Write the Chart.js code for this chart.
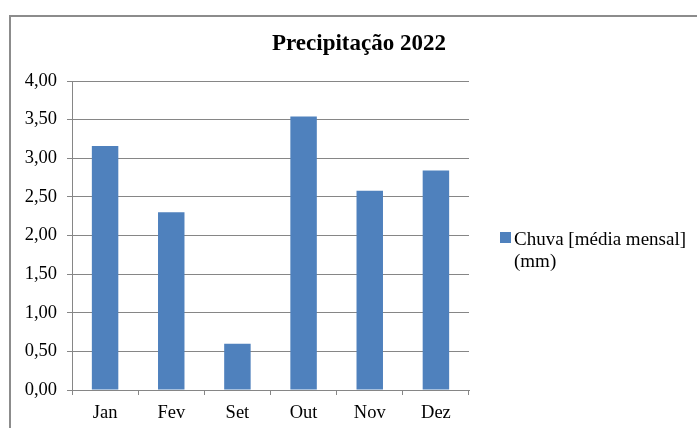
<!DOCTYPE html>
<html>
<head>
<meta charset="utf-8">
<script src="https://cdn.jsdelivr.net/npm/chart.js@4"></script>
<style>
  html, body { margin: 0; padding: 0; background: #fff; }
  #wrap { position: relative; width: 697px; height: 428px; overflow: hidden; background: #fff; }
  #frame { position: absolute; left: 9px; top: 15px; width: 720px; height: 460px;
           border-left: 2px solid #8c8c8c; border-top: 2px solid #8c8c8c; }
  canvas { position: absolute; left: 0; top: 0; }
</style>
</head>
<body>
<div id="wrap">
  <div id="frame"></div>
  <canvas id="c" width="697" height="428"></canvas>
</div>
<script>
// Monthly rainfall, 2022
const chartTitle = 'Precipitação 2022';
const months = ['Jan', 'Fev', 'Set', 'Out', 'Nov', 'Dez'];
const chuva = [3.16, 2.30, 0.60, 3.54, 2.58, 2.84];
const seriesLines = ['Chuva [média mensal]', '(mm)'];
const yTickLabels = ['0,00', '0,50', '1,00', '1,50', '2,00', '2,50', '3,00', '3,50', '4,00'];

const serif = '"Liberation Serif", "Times New Roman", serif';
const gridGrey = '#868686';

// Title and the wrapped series key, drawn beside the plot
const titleAndKey = {
  id: 'titleAndKey',
  afterDraw(chart) {
    const ctx = chart.ctx;
    const ds = chart.data.datasets[0];
    ctx.save();
    ctx.fillStyle = '#000';
    ctx.font = 'bold 23px ' + serif;
    ctx.textAlign = 'center';
    ctx.textBaseline = 'alphabetic';
    ctx.fillText(chartTitle, 359, 49.5);

    ctx.fillStyle = ds.backgroundColor;
    ctx.fillRect(500, 232, 11, 11);
    ctx.fillStyle = '#000';
    ctx.font = '19px ' + serif;
    ctx.textAlign = 'left';
    seriesLines.forEach((t, i) => ctx.fillText(t, 514, 245 + i * 22));
    ctx.restore();
  }
};

new Chart(document.getElementById('c'), {
  type: 'bar',
  data: {
    labels: months,
    datasets: [{
      label: seriesLines.join(' '),
      data: chuva,
      backgroundColor: '#4F81BD',
      borderWidth: 0,
      categoryPercentage: 1,
      barPercentage: 0.4
    }]
  },
  options: {
    responsive: false,
    animation: false,
    devicePixelRatio: 1,
    layout: { padding: { left: 0, right: 228, top: 81, bottom: 0 } },
    plugins: {
      legend: { display: false },
      title: { display: false },
      tooltip: { enabled: false }
    },
    scales: {
      x: {
        grid: { display: true, drawOnChartArea: false, drawTicks: true, tickLength: 5, color: gridGrey, offset: true },
        border: { display: true, color: gridGrey, width: 1 },
        ticks: { color: '#000', font: { family: serif, size: 18.5 }, padding: 7 },
        afterFit(s) { s.height = 38; }
      },
      y: {
        min: 0,
        max: 4,
        ticks: {
          stepSize: 0.5,
          color: '#000',
          font: { family: serif, size: 18.5 },
          padding: 10,
          callback: (v, i) => yTickLabels[i]
        },
        grid: { color: gridGrey, tickLength: 5 },
        border: { display: true, color: gridGrey, width: 1 },
        afterFit(s) { s.width = 72; }
      }
    }
  },
  plugins: [titleAndKey]
});
</script>
</body>
</html>
